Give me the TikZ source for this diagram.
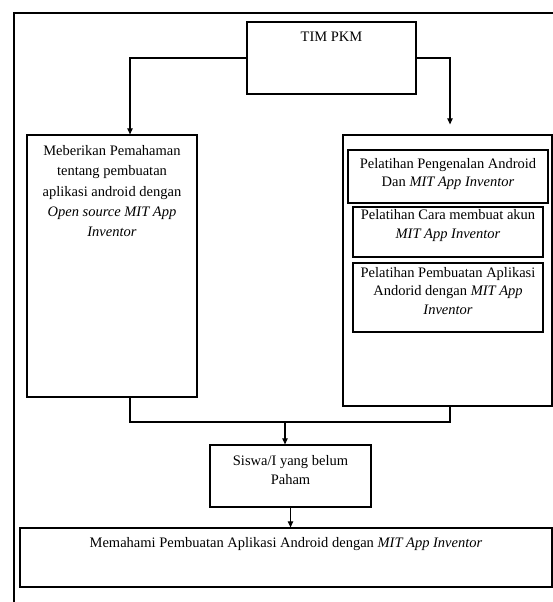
\documentclass[tikz,border=0pt]{standalone}
\usepackage{fontspec}
\setmainfont{Liberation Serif}
\usetikzlibrary{arrows.meta}
\begin{document}
\begin{tikzpicture}[x=1pt,y=-1pt,
  box/.style={draw, line width=1.3pt, inner sep=0pt},
  txt/.style={font=\fontsize{14.5}{18.5}\selectfont, align=center, inner sep=0pt},
  conn/.style={line width=1.1pt},
  arr/.style={line width=1.1pt, -{Triangle[length=6pt,width=5.5pt]}}]
\useasboundingbox (0,0) rectangle (553,602);
\draw[line width=2.5pt] (553,13) -- (14,13) -- (14,602);
% boxes
\node[box, minimum width=169pt, minimum height=72pt,
  label={[txt, anchor=north, yshift=-10pt]north:TIM PKM}] (tim) at (331.5,58) {};
\node[box, minimum width=170pt, minimum height=262pt,
  label={[txt, anchor=north, yshift=-11pt, font=\fontsize{14.5}{20.3}\selectfont]north:Meberikan Pemahaman\\tentang pembuatan\\aplikasi android dengan\\\textit{Open source MIT App}\\\textit{Inventor}}] (left) at (112,266) {};
\node[box, minimum width=209pt, minimum height=271pt] (right) at (447.5,270.5) {};
\node[box, minimum width=200pt, minimum height=53pt,
  label={[txt, anchor=north, yshift=-8.5pt]north:Pelatihan Pengenalan Android\\Dan \textit{MIT App Inventor}}] (in1) at (448,176.5) {};
\node[box, minimum width=190pt, minimum height=50pt,
  label={[txt, anchor=north, yshift=-3pt]north:Pelatihan Cara membuat akun\\\textit{MIT App Inventor}}] (in2) at (448,232) {};
\node[box, minimum width=190pt, minimum height=69pt,
  label={[txt, anchor=north, yshift=-4.5pt]north:Pelatihan Pembuatan Aplikasi\\Andorid dengan \textit{MIT App}\\\textit{Inventor}}] (in3) at (448,297.5) {};
\node[box, minimum width=161pt, minimum height=62pt,
  label={[txt, anchor=north, yshift=-11pt]north:Siswa/I yang belum\\Paham}] (siswa) at (290.5,476) {};
\node[box, minimum width=532pt, minimum height=59pt,
  label={[txt, anchor=north, yshift=-10pt]north:Memahami Pembuatan Aplikasi Android dengan \textit{MIT App Inventor}}] (final) at (286,557.5) {};
% connectors
\draw[arr] (tim.west) -| ([xshift=18pt]left.north);
\draw[arr] (tim.east) -| ([xshift=2.5pt,yshift=10pt]right.north);
\coordinate (jl) at (130,422);
\coordinate (jr) at (450,422);
\draw[conn] ([xshift=18pt]left.south) -- (jl) -- (jr) -- ([xshift=2.5pt]right.south);
\draw[arr] ([xshift=-5.5pt]siswa.north |- jl) -- ([xshift=-5.5pt]siswa.north);
\draw[arr] (siswa.south) -- (siswa.south |- final.north);
\end{tikzpicture}
\end{document}
